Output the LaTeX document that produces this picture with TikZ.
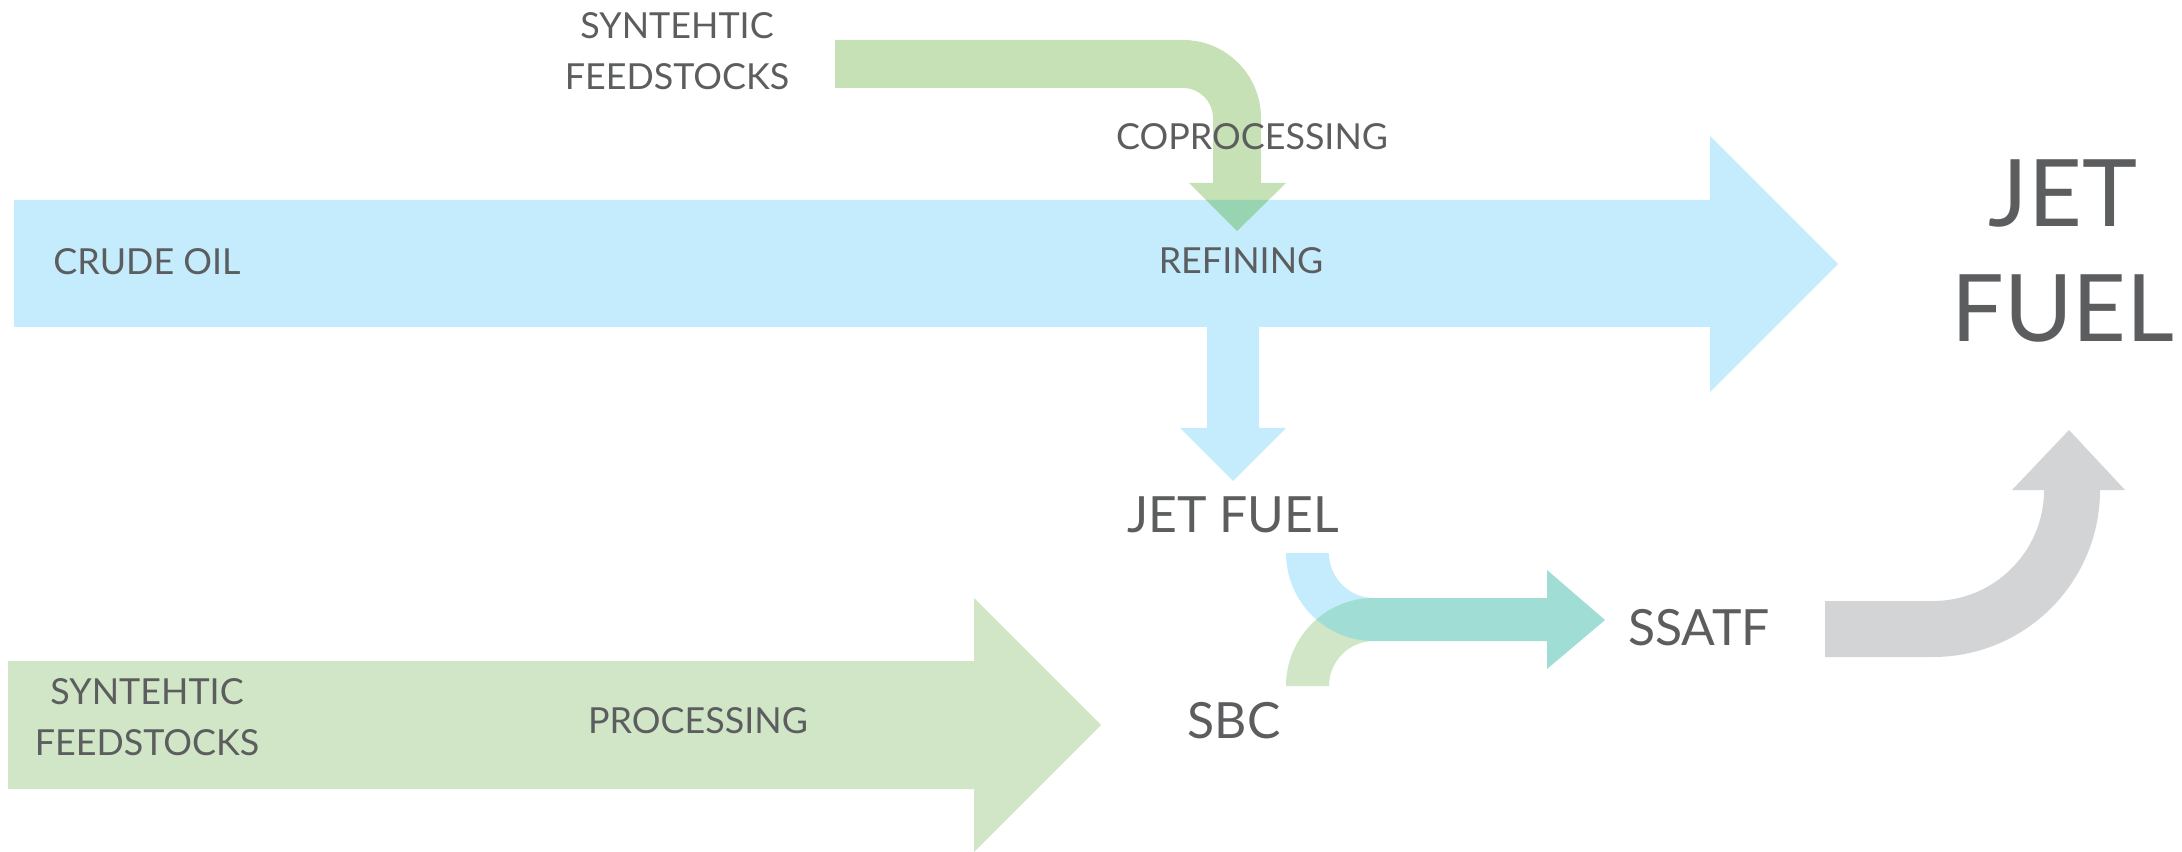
\documentclass[tikz,border=0pt]{standalone}
\usepackage{fontspec}
\setmainfont{Lato}
\definecolor{oilblue}{HTML}{C5ECFC}
\definecolor{synthgreen}{HTML}{C5E1B5}
\definecolor{procgreen}{HTML}{D0E6C6}
\definecolor{mixgreen}{HTML}{98D4B2}
\definecolor{blendteal}{HTML}{A0DDD5}
\definecolor{outgray}{HTML}{D3D4D6}
\definecolor{txtgray}{HTML}{5C5D5F}
\newcommand{\oilpath}{(14,-200) -- (1710,-200) -- (1710,-136) -- (1838,-264) -- (1710,-392) -- (1710,-327) -- (14,-327) -- cycle}
\newcommand{\copropath}{(835,-40) -- (1183,-40) arc[start angle=90,end angle=0,radius=78] -- (1261,-183) -- (1286,-183) -- (1237,-231) -- (1189,-183) -- (1213,-183) -- (1213,-118) arc[start angle=0,end angle=90,radius=30] -- (835,-88) -- cycle}
\newcommand{\jetribbon}{(1286,-553) arc[start angle=180,end angle=270,radius=88] -- (1374,-598) arc[start angle=270,end angle=180,radius=45] -- cycle}
\newcommand{\sbcribbon}{(1286,-686) arc[start angle=180,end angle=90,radius=88] -- (1374,-641) arc[start angle=90,end angle=180,radius=45] -- cycle}

\begin{document}
\begin{tikzpicture}[x=0.01cm,y=0.01cm,
  lbl/.style={text=txtgray,inner sep=0pt,align=center,font=\fontsize{10.2}{14.5}\selectfont},
  lblmid/.style={lbl,font=\fontsize{14.2}{17}\selectfont},
  lblbig/.style={lbl,font=\fontsize{26.5}{32.7}\selectfont}]
\useasboundingbox (0,0) rectangle (2182,-852);
\fill[oilblue] \oilpath; % crude oil
\fill[synthgreen] \copropath; % coprocessing
\begin{scope}
\clip \oilpath;
\fill[mixgreen] \copropath;
\end{scope}
\fill[oilblue] (1207,-326) -- (1259,-326) -- (1259,-428) -- (1286,-428) -- (1233,-481) -- (1180,-428) -- (1207,-428) -- cycle; % refining -> jet fuel
\fill[procgreen] (8,-661) -- (974,-661) -- (974,-598) -- (1101,-725) -- (974,-852) -- (974,-789) -- (8,-789) -- cycle; % processing
\fill[oilblue] \jetribbon;
\fill[procgreen] \sbcribbon;
\begin{scope}
\clip \jetribbon;
\fill[blendteal] \sbcribbon;
\end{scope}
\fill[blendteal] (1372,-598) -- (1547,-598) -- (1547,-570) -- (1605,-620) -- (1547,-669) -- (1547,-641) -- (1372,-641) -- cycle; % blend -> ssatf
\fill[outgray] (1825,-601) -- (1933,-601) arc[start angle=270,end angle=360,radius=111] -- (2012,-490) -- (2069,-430) -- (2125,-490) -- (2100,-490) arc[start angle=0,end angle=-90,radius=167] -- (1825,-657) -- cycle; % ssatf -> jet fuel
% labels
\node[lbl] (synthtop) at (677,-51.5) {SYNTEHTIC\\FEEDSTOCKS};
\node[lbl] (copro) at (1252,-137) {COPROCESSING};
\node[lbl] (crude) at (147,-262) {CRUDE OIL};
\node[lbl] (refining) at (1241,-261) {REFINING};
\node[lblmid] (jetmid) at (1233,-515) {JET FUEL};
\node[lblmid] (ssatf) at (1699,-628) {SSATF};
\node[lblmid] (sbc) at (1234,-721) {SBC};
\node[lbl] (synthbot) at (147,-717.5) {SYNTEHTIC\\FEEDSTOCKS};
\node[lbl] (processing) at (698,-721) {PROCESSING};
\node[lblbig] (jetfuel) at (2063,-251) {JET\\FUEL};
\end{tikzpicture}
\end{document}
